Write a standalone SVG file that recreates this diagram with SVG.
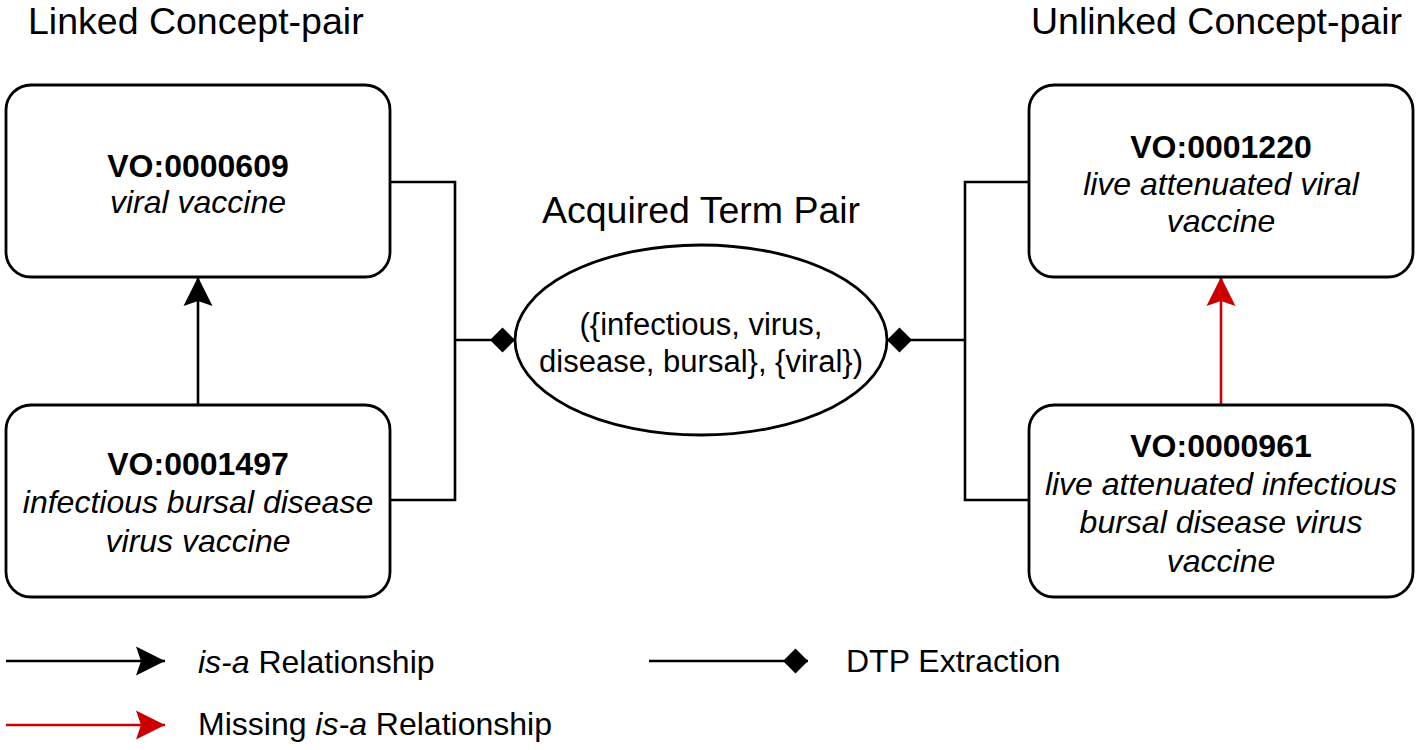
<svg xmlns="http://www.w3.org/2000/svg" width="1416" height="750" viewBox="0 0 1416 750">
  <style>
    text { font-family: "Liberation Sans", Arial, Helvetica, sans-serif; fill: #000; }
    .title { font-size: 37.5px; }
    .t { font-size: 32px; text-anchor: middle; }
    .e { font-size: 31px; text-anchor: middle; }
    .b { font-weight: bold; }
    .i { font-style: italic; }
    .box { fill: #fff; stroke: #000; stroke-width: 2.8; }
    .conn { fill: none; stroke: #000; stroke-width: 2.6; }
    .red { stroke: #CC0000; }
    .leg { font-size: 32px; }
  </style>
  <defs>
    <marker id="arrow" markerUnits="userSpaceOnUse" viewBox="0 0 30 30" markerWidth="30" markerHeight="30" refX="29" refY="15" orient="auto">
      <path d="M0,0.5 L29,15 L0,29.5 L5,15 Z" fill="#000"/>
    </marker>
    <marker id="arrowRed" markerUnits="userSpaceOnUse" viewBox="0 0 30 30" markerWidth="30" markerHeight="30" refX="29" refY="15" orient="auto">
      <path d="M0,0.5 L29,15 L0,29.5 L5,15 Z" fill="#CC0000"/>
    </marker>
    <marker id="diamond" markerUnits="userSpaceOnUse" viewBox="0 0 26 26" markerWidth="26" markerHeight="26" refX="25" refY="13" orient="auto">
      <path d="M0,13 L12.5,0.5 L25,13 L12.5,25.5 Z" fill="#000"/>
    </marker>
  </defs>

  <g id="titles">
    <text class="title" x="28" y="34">Linked Concept-pair</text>
    <text class="title" x="1031" y="34">Unlinked Concept-pair</text>
    <text class="title" x="701" y="223" text-anchor="middle">Acquired Term Pair</text>
  </g>

  <g id="connectors">
    <path class="conn" d="M390,182 H455 V500 H390"/>
    <path class="conn" d="M455,340 H515" marker-end="url(#diamond)"/>
    <path class="conn" d="M1029,182 H965 V500 H1029"/>
    <path class="conn" d="M965,340 H887" marker-end="url(#diamond)"/>
    <path class="conn" d="M198,405 V277" marker-end="url(#arrow)"/>
    <path class="conn red" d="M1221,405 V277" marker-end="url(#arrowRed)"/>
  </g>

  <g id="node-vo0000609">
    <rect class="box" x="6" y="85" width="384" height="192" rx="25" ry="25"/>
    <text class="t b" x="198" y="177">VO:0000609</text>
    <text class="t i" x="198" y="213">viral vaccine</text>
  </g>

  <g id="node-vo0001497">
    <rect class="box" x="6" y="405" width="384" height="192" rx="25" ry="25"/>
    <text class="t b" x="198" y="475">VO:0001497</text>
    <text class="t i" x="198" y="513">infectious bursal disease</text>
    <text class="t i" x="198" y="552">virus vaccine</text>
  </g>

  <g id="node-term-pair">
    <ellipse class="box" cx="701" cy="340" rx="186" ry="95"/>
    <text class="e" x="701" y="335">({infectious, virus,</text>
    <text class="e" x="701" y="372">disease, bursal}, {viral})</text>
  </g>

  <g id="node-vo0001220">
    <rect class="box" x="1029" y="85" width="384" height="192" rx="25" ry="25"/>
    <text class="t b" x="1221" y="158">VO:0001220</text>
    <text class="t i" x="1221" y="195">live attenuated viral</text>
    <text class="t i" x="1221" y="232">vaccine</text>
  </g>

  <g id="node-vo0000961">
    <rect class="box" x="1029" y="405" width="384" height="192" rx="25" ry="25"/>
    <text class="t b" x="1221" y="457">VO:0000961</text>
    <text class="t i" x="1221" y="495">live attenuated infectious</text>
    <text class="t i" x="1221" y="533">bursal disease virus</text>
    <text class="t i" x="1221" y="572">vaccine</text>
  </g>

  <g id="legend">
    <path class="conn" d="M6,661 H165" marker-end="url(#arrow)"/>
    <text class="leg" x="198" y="673"><tspan font-style="italic">is-a</tspan> Relationship</text>
    <path class="conn red" d="M6,725 H165" marker-end="url(#arrowRed)"/>
    <text class="leg" x="198" y="735">Missing <tspan font-style="italic">is-a</tspan> Relationship</text>
    <path class="conn" d="M649,661 H808" marker-end="url(#diamond)"/>
    <text class="leg" x="846" y="672">DTP Extraction</text>
  </g>
</svg>
